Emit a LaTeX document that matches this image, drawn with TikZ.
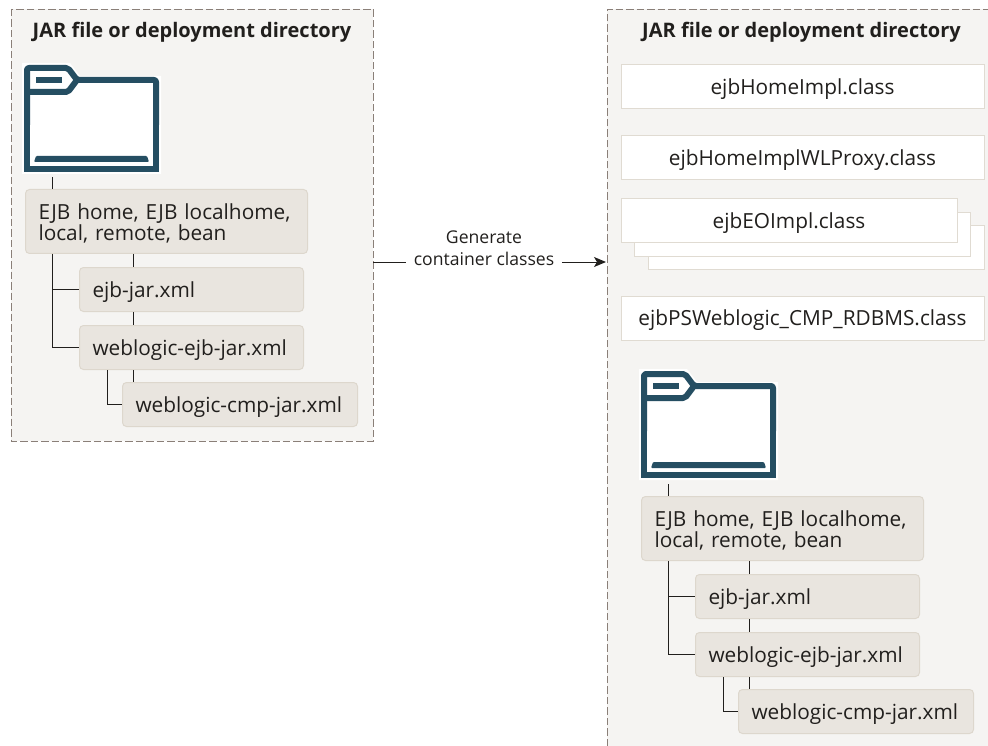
\documentclass[tikz,border=0pt]{standalone}
\usepackage{fontspec}
\setmainfont{Open Sans}
\usetikzlibrary{arrows.meta}
\definecolor{panelfill}{HTML}{F5F4F2}
\definecolor{paneldash}{HTML}{8A7F78}
\definecolor{boxfill}{HTML}{E9E5DF}
\definecolor{boxline}{HTML}{DDD7CD}
\definecolor{classline}{HTML}{E0DBD2}
\definecolor{foldercol}{HTML}{254E62}
\definecolor{inkcol}{HTML}{211F1D}
\tikzset{
	panel/.style = {fill=panelfill, draw=paneldash, dash pattern=on 7.5pt off 3pt, line width=0.9pt},
	xmlbox/.style = {draw=boxline, fill=boxfill, rounded corners=4pt, line width=1pt, anchor=north west, text=inkcol, align=left, inner xsep=13pt, inner ysep=0pt, font=\fontsize{20.8}{21}\selectfont, execute at begin node=\rule{0pt}{20pt}},
	classbox/.style = {draw=classline, fill=white, line width=1pt, anchor=north west, text=inkcol, align=center, inner xsep=0pt, inner ysep=0pt, minimum height=44pt, font=\fontsize{20.8}{21}\selectfont, execute at begin node=\rule{0pt}{20pt}},
	paneltitle/.style = {text=inkcol, font=\fontsize{20}{22}\selectfont\bfseries, inner sep=0pt},
	tree/.style = {draw=inkcol, line width=1pt},
	folderline/.style = {draw=foldercol, line width=6pt},
}
\newcommand{\jarfolder}[2]{% upper left corner of the folder
	\begin{scope}[shift={(#1,#2)}]
		\fill[white] (-2,-2) -- (46,-2) -- (56,11) -- (137,11) -- (137,109) -- (-2,109) -- cycle;
		\draw[folderline, line join=round, rounded corners=2pt] (3,60) -- (3,3) -- (44,3) -- (53,15) -- (132,15) -- (132,60);
		\draw[folderline, line join=miter] (3,60) -- (3,104) -- (132,104) -- (132,60);
		\draw[folderline, line join=round, rounded corners=2pt] (3,27) -- (44,27) -- (53,15);
		\fill[foldercol] (12,12) rectangle (38,18);
		\fill[foldercol, rounded corners=1pt] (10,97) -- (12,91) -- (123,91) -- (125,97) -- cycle;
	\end{scope}
}
\newcommand{\jartree}[3]{% #3 is the prefix of the node names
	\begin{scope}[shift={(#1,#2)}]
		\coordinate (#3folder) at (52,8);
		\coordinate (#3mid) at (133,0);
		\coordinate (#3kink) at (107,0);
		\node[xmlbox, text width=256pt, minimum height=64pt] (#3beans) at (25,20) {EJB home, EJB localhome,\\local, remote, bean};
		\node[xmlbox, text width=198pt, minimum height=44pt] (#3ejb) at (79,98) {ejb-jar.xml};
		\node[xmlbox, text width=198pt, minimum height=44pt] (#3wls) at (79,156) {weblogic-ejb-jar.xml};
		\node[xmlbox, text width=209pt, minimum height=44pt] (#3cmp) at (122,213) {weblogic-cmp-jar.xml};
		\draw[tree] (#3folder) -- (#3folder |- #3beans.north);
		\draw[tree] (#3mid |- #3beans.south) -- (#3mid |- #3ejb.north);
		\draw[tree] (#3mid |- #3ejb.south) -- (#3mid |- #3wls.north);
		\draw[tree] (#3mid |- #3wls.south) -- (#3mid |- #3cmp.north);
		\draw[tree] (#3folder |- #3beans.south) |- (#3ejb.west);
		\draw[tree] (#3folder |- #3beans.south) |- (#3wls.west);
		\draw[tree] (#3kink |- #3wls.south) |- (#3cmp.west);
	\end{scope}
}
\begin{document}
\begin{tikzpicture}[x=1pt, y=-1pt]
	\useasboundingbox (0,0) rectangle (988,746);
	% left panel
	\path[panel] (11,9) rectangle (373,441);
	\node[paneltitle] (lefttitle) at (192,32.5) {JAR file or deployment directory};
	\jarfolder{24}{65}
	\jartree{0}{169}{l}
	% right panel, it runs off the page
	\fill[panelfill] (607,9) rectangle (988,746);
	\draw[panel, fill=none] (607,746) -- (607,9) -- (988,9);
	\node[paneltitle] (righttitle) at (801.5,32.5) {JAR file or deployment directory};
	\node[classbox, minimum width=363pt] (homeimpl) at (620.5,64.5) {ejbHomeImpl.class};
	\node[classbox, minimum width=363pt] (proxy) at (620.5,135) {ejbHomeImplWLProxy.class};
	\node[classbox, minimum width=336pt] (eothree) at (647.5,225) {};
	\node[classbox, minimum width=336pt] (eotwo) at (634,212) {};
	\node[classbox, minimum width=336pt] (eoone) at (620.5,198) {ejbEOImpl.class};
	\node[classbox, minimum width=363pt] (psclass) at (620.5,295.5) {ejbPSWeblogic\_CMP\_RDBMS.class};
	\jarfolder{641}{371}
	\jartree{616}{476}{r}
	% arrow between the panels
	\coordinate (gensrc) at (373,262);
	\coordinate (gentgt) at (606,262);
	\node[text=inkcol, align=center, inner xsep=7.5pt, inner ysep=0pt, font=\fontsize{17.6}{22}\selectfont] (generate) at (484,248) {Generate\\container classes};
	\draw[tree] (gensrc) -- (generate.west |- gensrc);
	\draw[tree, -{Stealth[length=12pt, width=10pt, inset=3pt]}] (generate.east |- gentgt) -- (gentgt);
\end{tikzpicture}
\end{document}
